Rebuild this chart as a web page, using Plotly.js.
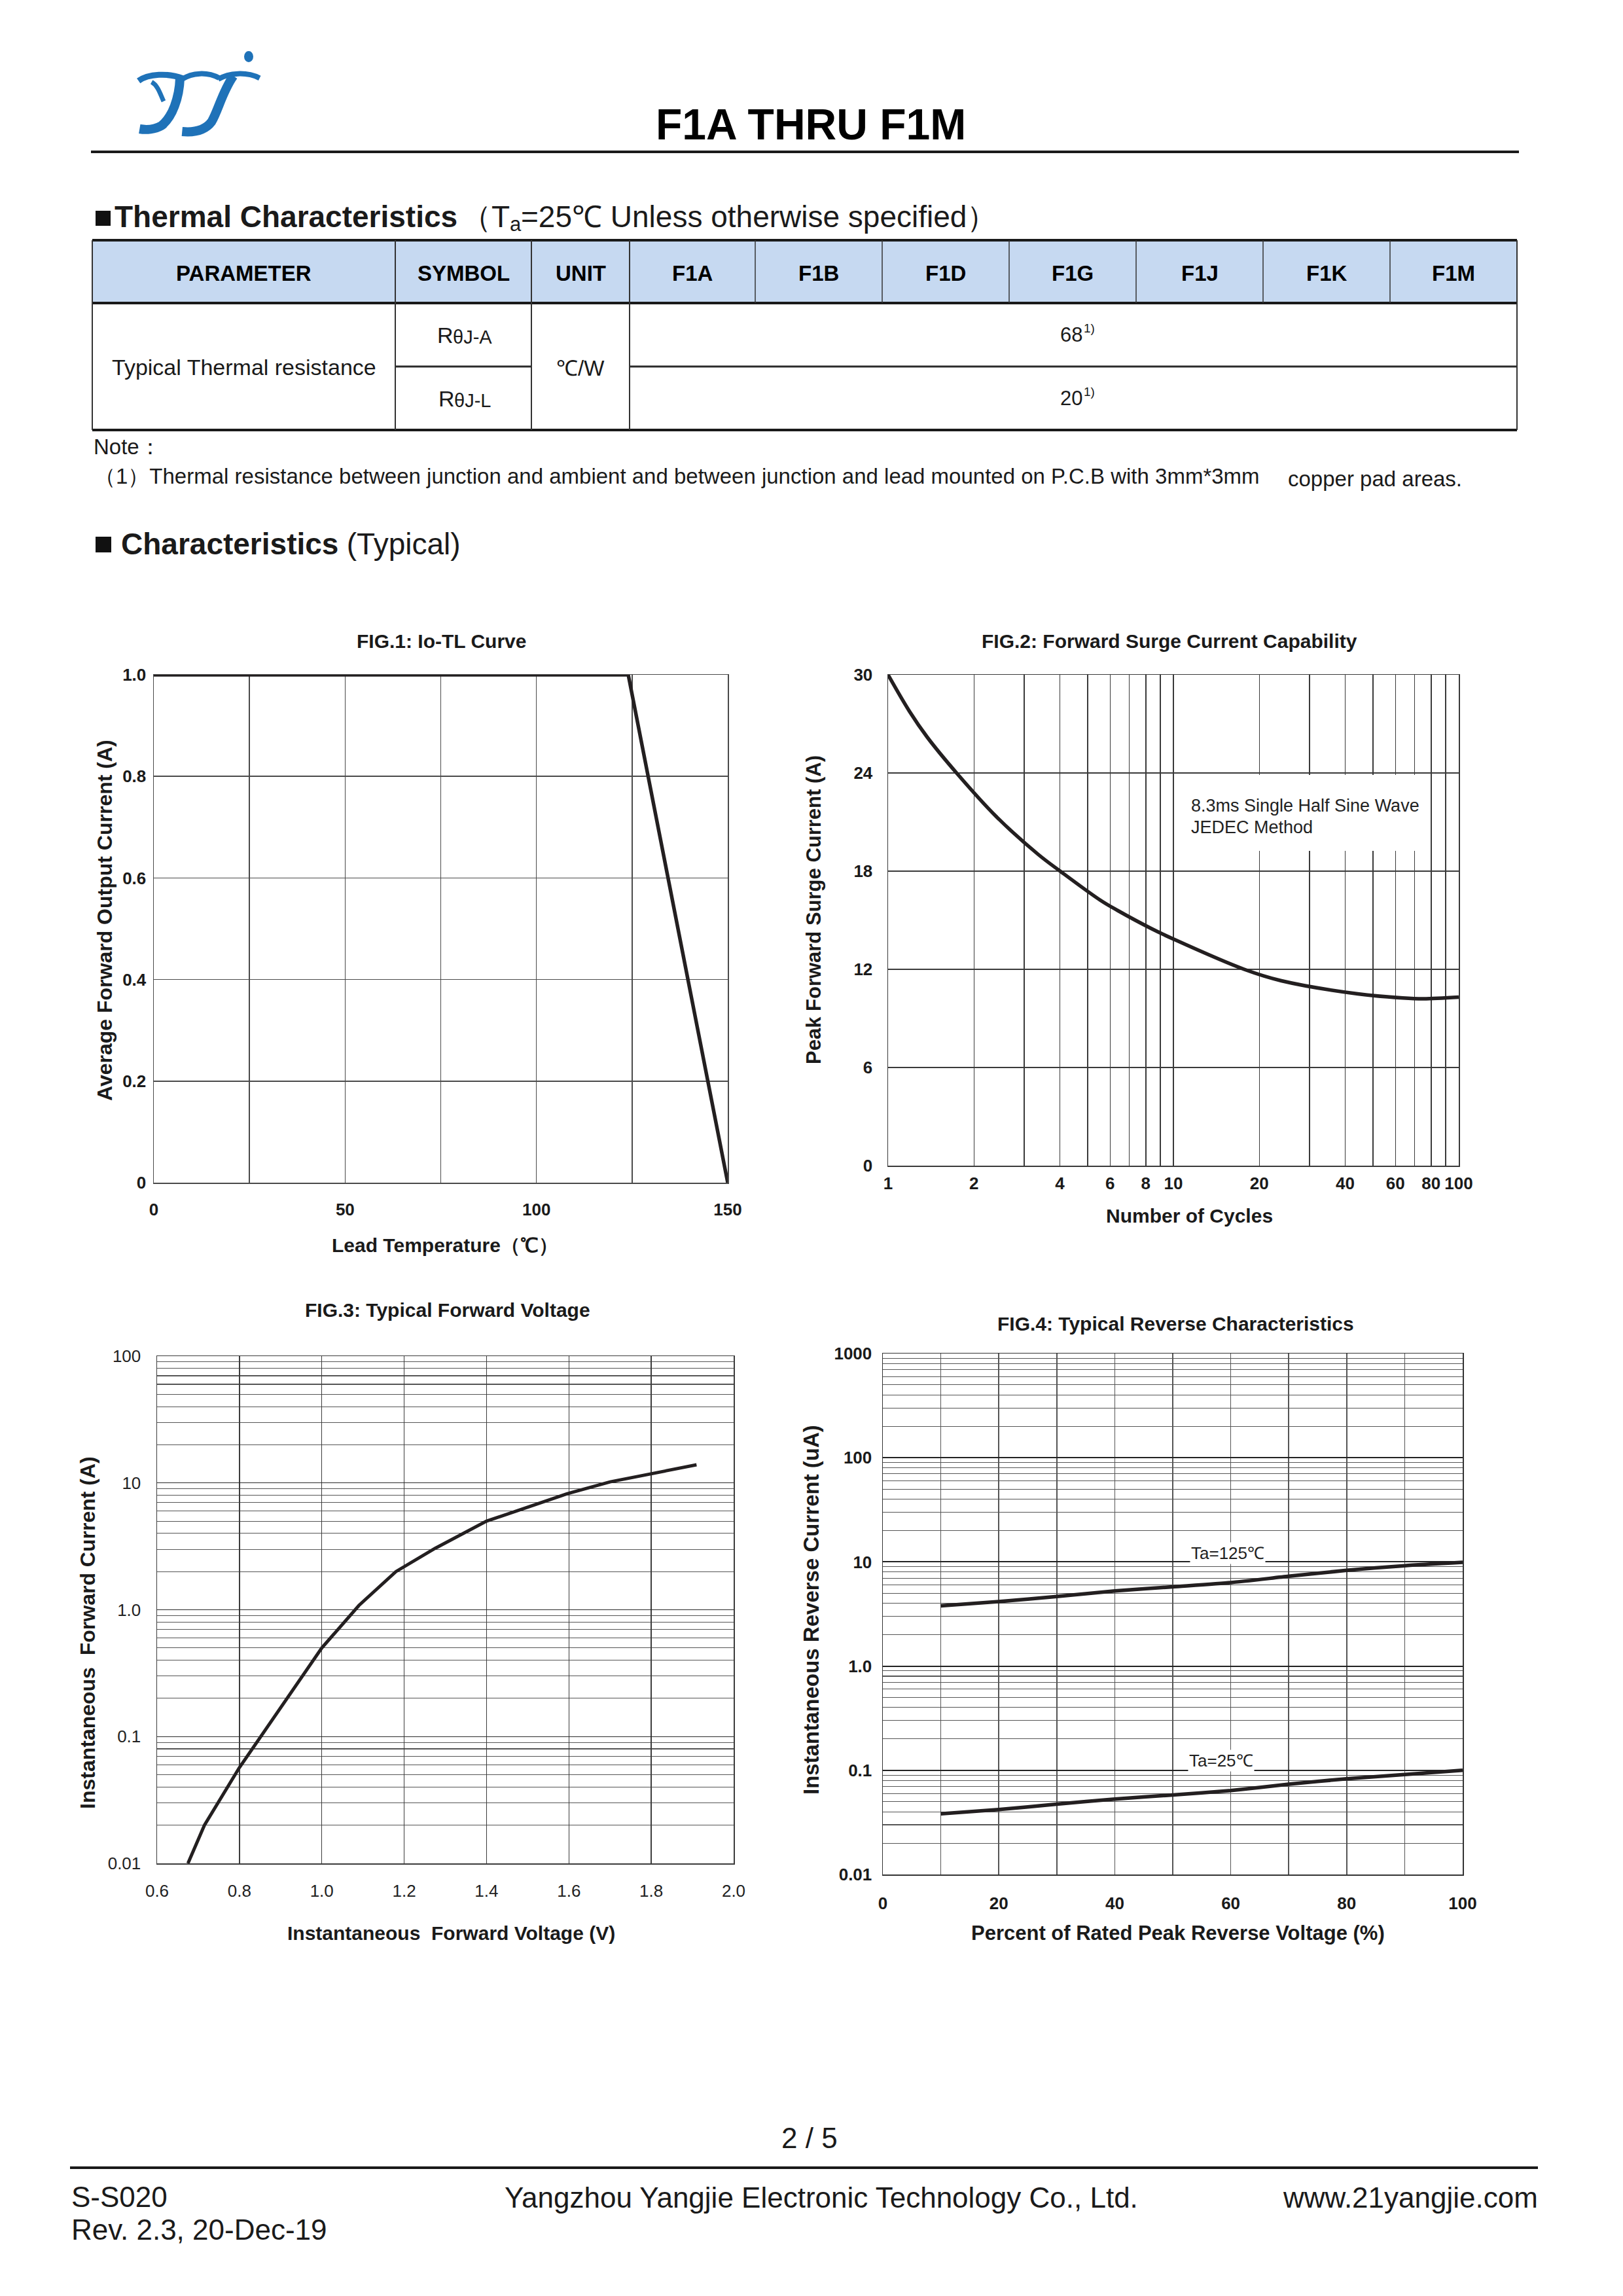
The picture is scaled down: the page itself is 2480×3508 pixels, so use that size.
<!DOCTYPE html>
<html>
<head>
<meta charset="utf-8">
<script src="https://cdn.plot.ly/plotly-3.0.1.min.js"></script>
<style>
  html, body { margin: 0; padding: 0; background: #ffffff; }
  #page { width: 2480px; height: 3508px; }
</style>
</head>
<body>
<div id="page"></div>
<script>
// ---------------- DATA ----------------
// Thermal table
const tableHeaders = ['PARAMETER', 'SYMBOL', 'UNIT', 'F1A', 'F1B', 'F1D', 'F1G', 'F1J', 'F1K', 'F1M'];
const paramName = 'Typical Thermal resistance';
const symbolMain = ['R', 'R'];
const symbolSub = ['θJ-A', 'θJ-L'];
const thermalUnit = '℃/W';
const thermalValues = [68, 20];
const thermalNoteMark = '1)';

// FIG.1: Io-TL curve
const fig1Temp = [0, 124, 150];
const fig1Current = [1.0, 1.0, 0];
const fig1XTicks = [0, 50, 100, 150];
const fig1XMinor = [25, 75, 125];
const fig1YTicks = [0, 0.2, 0.4, 0.6, 0.8, 1.0];
const fig1YLabels = ['0', '0.2', '0.4', '0.6', '0.8', '1.0'];

// FIG.2: Forward surge current capability
const fig2Cycles = [1, 1.19, 1.37, 1.738, 2.39, 3.36, 4.01, 5.55, 6.37, 8.37, 10, 17.7, 23.9, 44.3, 63.6, 75.2, 100];
const fig2Surge = [30, 27.75, 26.2, 24.0, 21.35, 19.02, 18, 16.22, 15.6, 14.49, 13.85, 12, 11.3, 10.5, 10.25, 10.2, 10.3];
const fig2XTicks = [1, 2, 4, 6, 8, 10, 20, 40, 60, 80, 100];
const fig2XMinor = [3, 5, 7, 9, 30, 50, 70, 90];
const fig2YTicks = [0, 6, 12, 18, 24, 30];
const fig2Note = ['8.3ms Single Half Sine Wave', 'JEDEC Method'];

// FIG.3: Typical forward voltage
const fig3Voltage = [0.675, 0.715, 0.8, 1.0, 1.09, 1.18, 1.275, 1.4, 1.595, 1.70, 1.91];
const fig3Current = [0.01, 0.02, 0.057, 0.5, 1.08, 2.0, 3.05, 5.0, 8.2, 10.2, 13.9];
const fig3XTicks = [0.6, 0.8, 1.0, 1.2, 1.4, 1.6, 1.8, 2.0];
const fig3XLabels = ['0.6', '0.8', '1.0', '1.2', '1.4', '1.6', '1.8', '2.0'];
const fig3YTicks = [0.01, 0.1, 1, 10, 100];
const fig3YLabels = ['0.01', '0.1', '1.0', '10', '100'];

// FIG.4: Typical reverse characteristics
const fig4Percent = [10, 20, 30, 40, 50, 60, 70, 80, 90, 100];
const fig4Ir125 = [3.79, 4.16, 4.66, 5.26, 5.77, 6.33, 7.28, 8.3, 9.2, 9.9];
const fig4Ir25 = [0.0383, 0.042, 0.0474, 0.053, 0.058, 0.064, 0.0735, 0.083, 0.091, 0.1];
const fig4XTicks = [0, 20, 40, 60, 80, 100];
const fig4XMinor = [10, 30, 50, 70, 90];
const fig4YTicks = [0.01, 0.1, 1, 10, 100, 1000];
const fig4YLabels = ['0.01', '0.1', '1.0', '10', '100', '1000'];
const fig4Labels = ['Ta=125℃', 'Ta=25℃'];

// ---------------- LAYOUT HELPERS ----------------
const W = 2480, H = 3508;
const FONT = 'Liberation Sans, Arial, Helvetica, sans-serif';
const INK = '#1a1a1a';
const CURVE = '#231f20';
const GRID = '#4a4a4a';

const measureCtx = document.createElement('canvas').getContext('2d');
function tw(text, size, bold) {
  measureCtx.font = (bold ? 'bold ' : '') + size + 'px "Liberation Sans", Arial, sans-serif';
  return measureCtx.measureText(text).width;
}

function logMinor(lo, hi) { // minor grid values k*10^d
  const v = [];
  for (let d = lo; d < hi; d++) for (let k = 2; k <= 9; k++) v.push(k * Math.pow(10, d));
  return v;
}
function dx(a, b) { return [a / W, b / W]; }
function dy(top, bottom) { return [1 - bottom / H, 1 - top / H]; }

function ann(x, y, text, size, extra, bold, color) {
  return Object.assign({
    xref: 'x5', yref: 'y5', x: x, y: y, text: text, showarrow: false,
    font: { size: size, family: FONT, color: color || INK, weight: bold ? 'bold' : 'normal' },
    xanchor: 'center', yanchor: 'middle'
  }, extra || {});
}
function seg(x0, y0, x1, y1, w, c) {
  return { type: 'line', xref: 'x5', yref: 'y5', x0: x0, y0: y0, x1: x1, y1: y1,
           line: { width: w, color: c || '#222' } };
}
function box(x0, y0, x1, y1, c) {
  return { type: 'rect', xref: 'x5', yref: 'y5', x0: x0, y0: y0, x1: x1, y1: y1,
           fillcolor: c, line: { width: 0 } };
}

const annotations = [];
const shapes = [];

// ---------------- PAGE HEADER ----------------
const logoBlue = '#1f72b8';
const logoPaths = [
  ['M 211.7,123.5 C 226.7,112.7 256.7,111 280,120', 9],
  ['M 231.7,125.3 C 241.7,131 245,144.3 250,154.7', 7],
  ['M 275,119.3 C 274,149.3 263.3,179.3 246.7,192 C 236.7,197.7 223.3,198.7 213.3,197', 14],
  ['M 278.3,121 C 293.3,111 316.7,109.3 335,119.3', 8],
  ['M 333.3,121 C 350,111 376.7,109.3 396.7,119.3', 8],
  ['M 356.7,116 C 340,139.3 333.3,169.3 323.3,186 C 313.3,199.3 296.7,202.7 278.3,201', 14]
];
logoPaths.forEach(p => shapes.push({ type: 'path', xref: 'x5', yref: 'y5', path: p[0],
  line: { color: logoBlue, width: p[1] }, fillcolor: 'rgba(0,0,0,0)' }));
shapes.push({ type: 'circle', xref: 'x5', yref: 'y5', x0: 373, x1: 387, y0: 78, y1: 95,
  fillcolor: logoBlue, line: { width: 0 } });

annotations.push(ann(1239, 190, 'F1A THRU F1M', 66, null, true, '#000'));
shapes.push(seg(139, 232, 2321, 232, 4, '#1a1a1a'));

// heading 1: ■Thermal Characteristics （Ta=25℃ Unless otherwise specified）
shapes.push(box(146, 322, 169, 345, '#111'));
(function () {
  let x = 173;
  annotations.push(ann(x, 331, 'Thermal Characteristics', 46, { xanchor: 'left' }, true));
  x += tw('Thermal Characteristics', 46, true) + 6;
  annotations.push(ann(x, 331, '（T', 46, { xanchor: 'left' }));
  x += tw('（T', 46, false);
  annotations.push(ann(x, 342, 'a', 31, { xanchor: 'left' }));
  x += tw('a', 31, false);
  annotations.push(ann(x, 331, '=25℃ Unless otherwise specified）', 46, { xanchor: 'left' }));
})();

// ---------------- TABLE ----------------
const colX = [141, 604, 812, 962, 1154, 1348, 1542, 1736, 1930, 2124, 2318];
const rowY = [367, 463, 560, 657];
shapes.push({ type: 'rect', xref: 'x5', yref: 'y5', x0: colX[0], x1: colX[10], y0: rowY[0], y1: rowY[1],
  fillcolor: '#c6d9f1', line: { width: 0 }, layer: 'below' });
shapes.push(seg(colX[0], rowY[0], colX[10], rowY[0], 4, '#1a1a1a'));
shapes.push(seg(colX[0], rowY[1], colX[10], rowY[1], 4, '#1a1a1a'));
shapes.push(seg(colX[0], rowY[3], colX[10], rowY[3], 4, '#1a1a1a'));
shapes.push(seg(colX[1], rowY[2], colX[2], rowY[2], 3, '#2a2a2a'));
shapes.push(seg(colX[3], rowY[2], colX[10], rowY[2], 3, '#2a2a2a'));
[0, 1, 2, 3, 10].forEach(i => shapes.push(seg(colX[i], rowY[0], colX[i], rowY[3], 2, '#333')));
for (let i = 4; i < 10; i++) shapes.push(seg(colX[i], rowY[0], colX[i], rowY[1], 1.5, '#333'));
tableHeaders.forEach((h, i) => {
  annotations.push(ann((colX[i] + colX[i + 1]) / 2, 417, h, 33, null, true, '#000'));
});
annotations.push(ann((colX[0] + colX[1]) / 2, 561, paramName, 34));
symbolMain.forEach((m, r) => {
  const yc = (rowY[r + 1] + rowY[r + 2]) / 2;
  const wMain = tw(m, 34, false), wSub = tw(symbolSub[r], 29, false);
  const x0 = (colX[1] + colX[2]) / 2 - (wMain + wSub) / 2;
  annotations.push(ann(x0, yc, m, 34, { xanchor: 'left' }));
  annotations.push(ann(x0 + wMain, yc + 3, symbolSub[r], 29, { xanchor: 'left' }));
  const vText = String(thermalValues[r]);
  const wVal = tw(vText, 31, false), wMark = tw(thermalNoteMark, 19, false);
  const vx = (colX[3] + colX[10]) / 2 - (wVal + wMark) / 2 + 4;
  annotations.push(ann(vx, yc, vText, 31, { xanchor: 'left' }));
  annotations.push(ann(vx + wVal + 1, yc - 10, thermalNoteMark, 19, { xanchor: 'left' }));
});
annotations.push(ann((colX[2] + colX[3]) / 2, 562, thermalUnit, 33));

annotations.push(ann(141, 682, 'Note：', 33, { xanchor: 'left' }));
annotations.push(ann(142, 727, '（1）Thermal resistance between junction and ambient and between junction and lead mounted on P.C.B with 3mm*3mm', 33, { xanchor: 'left' }));
annotations.push(ann(1966, 731, 'copper pad areas.', 33, { xanchor: 'left' }));

// heading 2: ■ Characteristics (Typical)
shapes.push(box(146, 820, 170, 844, '#111'));
(function () {
  let x = 183;
  annotations.push(ann(x, 831, 'Characteristics', 46, { xanchor: 'left' }, true));
  x += tw('Characteristics', 46, true);
  annotations.push(ann(x, 831, ' (Typical)', 46, { xanchor: 'left' }));
})();

// ---------------- CHART TEXTS ----------------
function btxt(x, y, s, size, extra) { return ann(x, y, s, size, extra, true); }
annotations.push(btxt(674, 979, 'FIG.1: Io-TL Curve', 30));
annotations.push(btxt(160, 1406, 'Average Forward Output Current (A)', 32, { textangle: -90 }));
annotations.push(btxt(680, 1902, 'Lead Temperature（℃）', 30));

annotations.push(btxt(1787, 979, 'FIG.2: Forward Surge Current Capability', 30));
annotations.push(btxt(1243, 1390, 'Peak Forward Surge Current (A)', 31, { textangle: -90 }));
annotations.push(btxt(1817, 1857, 'Number of Cycles', 30));
// white gap in the FIG.2 grid behind the note text
shapes.push(box(1800, 1184, 2168, 1300, '#ffffff'));
fig2Note.forEach((line, i) => {
  annotations.push(ann(1818, 1231 + i * 33, line, 27, { xanchor: 'left' }, false, '#222'));
});

annotations.push(btxt(684, 2001, 'FIG.3: Typical Forward Voltage', 30));
annotations.push(btxt(134, 2495, 'Instantaneous\u00A0 Forward Current (A)', 32, { textangle: -90 }));
annotations.push(btxt(689, 2953, 'Instantaneous\u00A0 Forward Voltage (V)', 30));

annotations.push(btxt(1796, 2022, 'FIG.4: Typical Reverse Characteristics', 30));
annotations.push(btxt(1239, 2460, 'Instantaneous Reverse Current (uA)', 33, { textangle: -90 }));
annotations.push(btxt(1800, 2953, 'Percent of Rated Peak Reverse Voltage (%)', 31));
annotations.push({ xref: 'x4', yref: 'y4', x: 59.5, y: Math.log10(12.2), text: fig4Labels[0], showarrow: false,
  font: { size: 26, family: FONT, color: '#222' }, bgcolor: '#ffffff' });
annotations.push({ xref: 'x4', yref: 'y4', x: 58.4, y: Math.log10(0.123), text: fig4Labels[1], showarrow: false,
  font: { size: 26, family: FONT, color: '#222' }, bgcolor: '#ffffff' });

// ---------------- FOOTER ----------------
annotations.push(ann(1237, 3266, '2 / 5', 44));
shapes.push(seg(107, 3312, 2350, 3312, 4, '#1a1a1a'));
annotations.push(ann(107, 3356, 'S-S020', 44, { xanchor: 'left' }));
annotations.push(ann(107, 3406, 'Rev. 2.3, 20-Dec-19', 44, { xanchor: 'left' }));
annotations.push(ann(1255, 3357, 'Yangzhou Yangjie Electronic Technology Co., Ltd.', 44));
annotations.push(ann(2352, 3357, 'www.21yangjie.com', 44, { xanchor: 'right' }));

// ---------------- AXES ----------------
const tickBold = { size: 26, family: FONT, color: INK, weight: 'bold' };
const tickReg = { size: 26, family: FONT, color: '#222' };
function baseAxis(extra) {
  return Object.assign({
    showgrid: true, gridcolor: GRID, gridwidth: 1.5, zeroline: false,
    showline: true, mirror: true, linecolor: GRID, linewidth: 1.5,
    ticks: '', tickmode: 'array', fixedrange: true
  }, extra);
}
function minorGrid(vals, color, width) {
  return { tickmode: 'array', tickvals: vals, showgrid: true, gridcolor: color, gridwidth: width, ticks: '' };
}

const layout = {
  width: W, height: H, autosize: false,
  margin: { l: 0, r: 0, t: 0, b: 0, pad: 0 },
  paper_bgcolor: '#ffffff', plot_bgcolor: 'rgba(0,0,0,0)',
  font: { family: FONT, color: INK },
  showlegend: false,
  xaxis: baseAxis({ domain: dx(235, 1112), range: [0, 150], tickvals: fig1XTicks, ticktext: fig1XTicks.map(String),
    tickfont: tickBold, ticklabelstandoff: 17, anchor: 'y', minor: minorGrid(fig1XMinor, GRID, 1.5) }),
  yaxis: baseAxis({ domain: dy(1031, 1807), range: [0, 1], tickvals: fig1YTicks, ticktext: fig1YLabels,
    tickfont: tickBold, ticklabelstandoff: 5, anchor: 'x' }),
  xaxis2: baseAxis({ domain: dx(1357, 2229), type: 'log', range: [0, 2], tickvals: fig2XTicks,
    ticktext: fig2XTicks.map(String), tickfont: tickBold, ticklabelstandoff: 3, anchor: 'y2',
    gridcolor: '#3a3a3a', linecolor: '#3a3a3a', minor: minorGrid(fig2XMinor, '#3a3a3a', 1.5) }),
  yaxis2: baseAxis({ domain: dy(1031, 1781), range: [0, 30], tickvals: fig2YTicks, ticktext: fig2YTicks.map(String),
    tickfont: tickBold, ticklabelstandoff: 17, anchor: 'x2', gridcolor: '#3a3a3a', linecolor: '#3a3a3a' }),
  xaxis3: baseAxis({ domain: dx(240, 1121), range: [0.6, 2.0], tickvals: fig3XTicks, ticktext: fig3XLabels,
    tickfont: tickReg, ticklabelstandoff: 18, anchor: 'y3', gridcolor: '#3c3c3c', linecolor: '#3c3c3c', gridwidth: 1.3 }),
  yaxis3: baseAxis({ domain: dy(2072, 2847), type: 'log', range: [-2, 2], tickvals: fig3YTicks, ticktext: fig3YLabels,
    tickfont: tickReg, ticklabelstandoff: 18, anchor: 'x3', gridcolor: '#2a2a2a', linecolor: '#3c3c3c', gridwidth: 1.3,
    minor: minorGrid(logMinor(-2, 2), '#555', 1.1) }),
  xaxis4: baseAxis({ domain: dx(1349, 2235), range: [0, 100], tickvals: fig4XTicks, ticktext: fig4XTicks.map(String),
    tickfont: tickBold, ticklabelstandoff: 20, anchor: 'y4', gridcolor: '#555', linecolor: '#333',
    minor: minorGrid(fig4XMinor, '#555', 1.5) }),
  yaxis4: baseAxis({ domain: dy(2068, 2864), type: 'log', range: [-2, 3], tickvals: fig4YTicks, ticktext: fig4YLabels,
    tickfont: tickBold, ticklabelstandoff: 10, anchor: 'x4', gridcolor: '#222', gridwidth: 2, linecolor: '#333',
    minor: minorGrid(logMinor(-2, 3), '#555', 1.1) }),
  // full-page pixel coordinate system for page texts and rules
  xaxis5: { domain: [0, 1], range: [0, W], visible: false, fixedrange: true, anchor: 'y5' },
  yaxis5: { domain: [0, 1], range: [H, 0], visible: false, fixedrange: true, anchor: 'x5' },
  annotations: annotations,
  shapes: shapes
};

const data = [
  { type: 'scatter', mode: 'lines', x: fig1Temp, y: fig1Current, xaxis: 'x', yaxis: 'y',
    line: { color: CURVE, width: 5.5 }, cliponaxis: false, hoverinfo: 'skip' },
  { type: 'scatter', mode: 'lines', x: fig2Cycles, y: fig2Surge, xaxis: 'x2', yaxis: 'y2',
    line: { color: CURVE, width: 5.5, shape: 'spline', smoothing: 1 }, cliponaxis: false, hoverinfo: 'skip' },
  { type: 'scatter', mode: 'lines', x: fig3Voltage, y: fig3Current, xaxis: 'x3', yaxis: 'y3',
    line: { color: CURVE, width: 5 }, cliponaxis: false, hoverinfo: 'skip' },
  { type: 'scatter', mode: 'lines', x: fig4Percent, y: fig4Ir125, xaxis: 'x4', yaxis: 'y4',
    line: { color: CURVE, width: 5.5, shape: 'spline', smoothing: 0.6 }, cliponaxis: false, hoverinfo: 'skip' },
  { type: 'scatter', mode: 'lines', x: fig4Percent, y: fig4Ir25, xaxis: 'x4', yaxis: 'y4',
    line: { color: CURVE, width: 5.5, shape: 'spline', smoothing: 0.6 }, cliponaxis: false, hoverinfo: 'skip' },
  { type: 'scatter', mode: 'lines', x: [], y: [], xaxis: 'x5', yaxis: 'y5', hoverinfo: 'skip' }
];

Plotly.newPlot('page', data, layout, { staticPlot: true, displayModeBar: false });
</script>
</body>
</html>
